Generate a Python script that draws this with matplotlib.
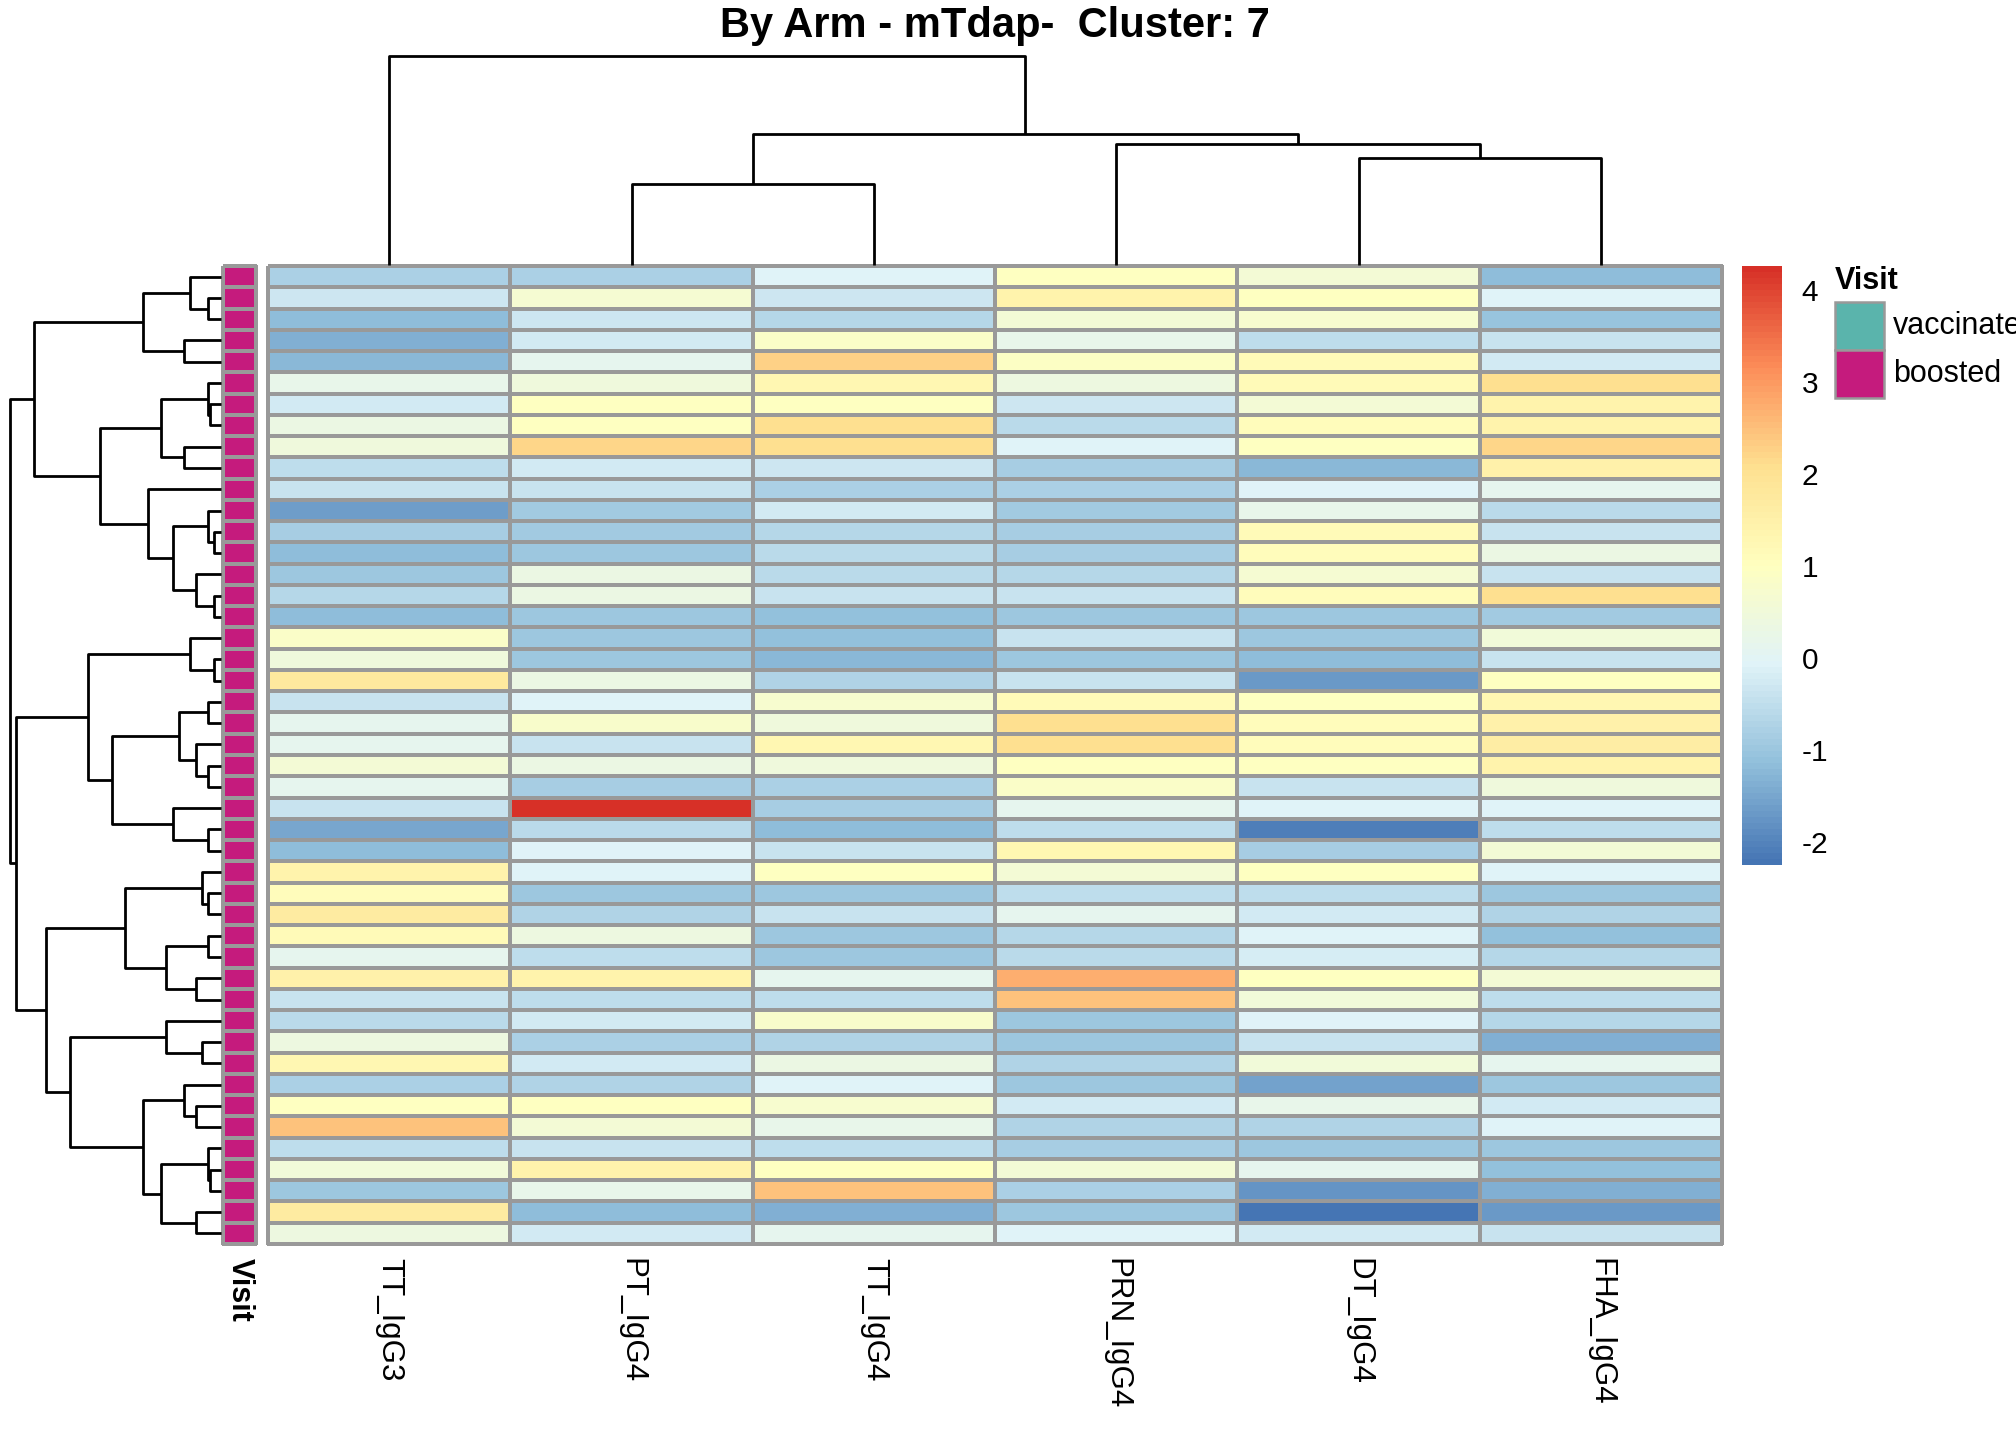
import numpy as np
import matplotlib
matplotlib.use("Agg")
import matplotlib.pyplot as plt
from matplotlib.colors import LinearSegmentedColormap, ListedColormap
from matplotlib.patches import Rectangle

plt.rcParams["font.family"] = ["Liberation Sans", "DejaVu Sans"]
plt.rcParams["axes.unicode_minus"] = False

title = "By Arm - mTdap-  Cluster: 7"
columns = ["TT_IgG3", "PT_IgG4", "TT_IgG4", "PRN_IgG4", "DT_IgG4", "FHA_IgG4"]

# scaled values, rows in dendrogram order (top to bottom)
tt_igg3 = [-0.8, -0.3, -1.2, -1.35, -1.25, 0.2, -0.25, 0.35, 0.45, -0.5, -0.4, -1.6, -0.85, -1.15, -0.95, -0.65,
           -1.15, 0.85, 0.45, 1.75, -0.4, 0.1, 0.1, 0.6, 0.1, -0.42, -1.5, -1.2, 1.45, 1.1, 1.7, 1.2, 0.15, 1.5,
           -0.4, -0.6, 0.4, 1.3, -0.8, 1.0, 2.5, -0.55, 0.5, -0.95, 1.7, 0.4]
pt_igg4 = [-0.8, 0.65, -0.3, -0.25, 0.15, 0.45, 1.0, 1.0, 2.2, -0.25, -0.42, -0.9, -0.9, -0.95, 0.3, 0.3,
           -0.95, -1.0, -0.95, 0.3, -0.1, 0.8, -0.42, 0.3, -0.85, 4.26, -0.62, -0.1, -0.1, -1.0, -0.7, 0.4, -0.5,
           1.4, -0.55, -0.25, -0.8, -0.25, -0.7, 0.95, 0.55, -0.42, 1.4, 0.2, -1.15, -0.25]
tt_igg4 = [-0.1, -0.3, -0.65, 0.85, 2.25, 1.3, 1.0, 2.05, 2.1, -0.3, -0.8, -0.25, -0.65, -0.62, -0.62, -0.4,
           -1.1, -1.1, -1.25, -0.7, 0.7, 0.45, 1.3, 0.45, -0.8, -0.85, -1.2, -0.42, 0.95, -1.0, -0.42, -0.95,
           -1.0, 0.15, -0.55, 0.75, -0.7, 0.35, -0.1, 0.7, 0.2, -0.55, 1.0, 2.5, -1.4, 0.1]
prn_igg4 = [0.95, 1.4, 0.6, 0.2, 0.9, 0.4, -0.3, -0.6, -0.1, -0.85, -0.8, -0.9, -0.85, -0.85, -0.65, -0.42,
            -0.95, -0.42, -0.95, -0.4, 1.2, 2.05, 2.1, 0.95, 0.85, 0.1, -0.55, 1.3, 0.55, -0.55, 0.15, -0.65,
            -0.6, 2.7, 2.5, -0.95, -0.95, -0.7, -0.95, -0.25, -0.7, -0.85, 0.6, -0.8, -1.0, -0.1]
dt_igg4 = [0.6, 0.95, 0.7, -0.5, 1.15, 1.15, 0.55, 1.1, 1.0, -1.25, -0.1, 0.2, 1.2, 1.1, 0.65, 1.1, -0.95,
           -1.0, -1.2, -1.7, 1.0, 1.1, 1.1, 1.0, -0.4, -0.1, -2.1, -0.85, 1.0, -0.55, -0.25, -0.1, -0.2, 1.0,
           0.5, -0.1, -0.42, 0.5, -1.55, 0.2, -0.7, -1.0, 0.1, -1.75, -2.25, -0.25]
fha_igg4 = [-1.15, -0.1, -1.05, -0.42, -0.25, 2.1, 1.45, 1.45, 2.2, 1.5, 0.1, -0.6, -0.42, 0.3, -0.42, 2.1,
            -0.9, 0.5, -0.42, 1.0, 1.3, 1.5, 1.6, 1.4, 0.45, -0.1, -0.55, 0.55, -0.1, -1.0, -0.7, -1.1, -0.65,
            0.55, -0.55, -0.65, -1.35, 0.1, -0.95, -0.25, -0.1, -1.0, -1.12, -1.35, -1.7, -0.42]

visit = ["boosted"] * 46
visit_levels = ["vaccinated", "boosted"]
visit_colors = ["#5AB4AC", "#C51B7D"]

# trees as (left, right, height); ints are leaf positions
row_tree = (
    ((((0, (1, 2, 0.38), 0.92), (3, 4, 1.10), 2.35),
      (((5, (6, 7, 0.33), 0.38), (8, 9, 1.10), 1.81),
       (10, ((11, (12, 13, 0.20), 0.38), (14, (15, 16, 0.20), 0.74), 1.45), 2.18), 3.62), 5.59)),
    (((17, (18, 19, 0.20), 0.92),
      (((20, 21, 0.38), (22, (23, 24, 0.38), 0.74), 1.27), (25, (26, 27, 0.38), 1.45), 3.25), 3.97),
     (((28, (29, 30, 0.38), 0.56), ((31, 32, 0.38), (33, 34, 0.74), 1.64), 2.89),
      ((35, (36, 37, 0.56), 1.64),
       ((38, (39, 40, 0.74), 1.10), ((41, (42, 43, 0.33), 0.38), (44, 45, 0.74), 1.81), 2.35), 4.51), 5.24),
     6.14),
    6.32)
col_tree = (0, ((1, 2, 4.05), (3, (4, 5, 5.33), 6.03), 6.53), 10.45)

values = np.column_stack([tt_igg3, pt_igg4, tt_igg4, prn_igg4, dt_igg4, fha_igg4])
n_rows, n_cols = values.shape
vmin, vmax = values.min(), values.max()

cmap = LinearSegmentedColormap.from_list(
    "rdylbu_rev", ["#4575B4", "#91BFDB", "#E0F3F8", "#FFFFBF", "#FEE090", "#FC8D59", "#D73027"], N=100)
border = "#999999"

W, H = 2016, 1440
fig = plt.figure(figsize=(W / 100, H / 100), dpi=100)


def box(x0, y0, x1, y1):
    return [x0 / W, 1 - y1 / H, (x1 - x0) / W, (y1 - y0) / H]


def draw_tree(ax, node, vertical, lw=2.0):
    if isinstance(node, int):
        return node + 0.5, 0.0
    left, right, h = node
    p1, h1 = draw_tree(ax, left, vertical, lw)
    p2, h2 = draw_tree(ax, right, vertical, lw)
    pos = [p1, p1, p2, p2]
    hts = [h1, h, h, h2]
    if vertical:
        ax.plot(pos, hts, color="black", lw=lw, solid_capstyle="butt")
    else:
        ax.plot(hts, pos, color="black", lw=lw, solid_capstyle="butt")
    return (p1 + p2) / 2, h


hx0, hx1, hy0, hy1 = 268, 1722, 266, 1244

# heatmap
ax = fig.add_axes(box(hx0, hy0, hx1, hy1))
mesh = ax.pcolormesh(values, cmap=cmap, vmin=vmin, vmax=vmax, edgecolors=border, linewidth=1.5)
mesh.set_clip_on(False)
ax.set_xlim(0, n_cols)
ax.set_ylim(n_rows, 0)
ax.axis("off")

# annotation column
ax_ann = fig.add_axes(box(223, hy0, 256, hy1))
codes = np.array([[visit_levels.index(v)] for v in visit])
ann = ax_ann.pcolormesh(codes, cmap=ListedColormap(visit_colors), vmin=0, vmax=1,
                        edgecolors=border, linewidth=1.5)
ann.set_clip_on(False)
ax_ann.set_ylim(n_rows, 0)
ax_ann.axis("off")

# row dendrogram
ax_rd = fig.add_axes(box(10, hy0, 221, hy1))
draw_tree(ax_rd, row_tree, vertical=False)
ax_rd.set_xlim(row_tree[2], 0)
ax_rd.set_ylim(n_rows, 0)
ax_rd.axis("off")

# column dendrogram
ax_cd = fig.add_axes(box(hx0, 56, hx1, 265))
draw_tree(ax_cd, col_tree, vertical=True)
ax_cd.set_xlim(0, n_cols)
ax_cd.set_ylim(0, col_tree[2])
ax_cd.axis("off")
for a in (ax_rd, ax_cd):
    for ln in a.lines:
        ln.set_clip_on(False)

# colorbar
cax = fig.add_axes(box(1742, 266, 1782, 865))
cb = fig.colorbar(mesh, cax=cax, ticks=range(-2, 5))
cb.outline.set_visible(False)
cax.tick_params(length=0, pad=14, labelsize=21.5)

# overlay for text and legend
ov = fig.add_axes([0, 0, 1, 1])
ov.set_xlim(0, W)
ov.set_ylim(H, 0)
ov.axis("off")
ov.patch.set_alpha(0)

ov.text((hx0 + hx1) / 2, 26, title, ha="center", va="center", fontsize=30, fontweight="bold")

cw = (hx1 - hx0) / n_cols
for i, name in enumerate(columns):
    ov.text(hx0 + (i + 0.5) * cw, 1258, name, rotation=270, ha="center", va="top", fontsize=22.5)
ov.text(239.5, 1258, "Visit", rotation=270, ha="center", va="top", fontsize=22, fontweight="bold")

ov.text(1835, 281, "Visit", ha="left", va="center", fontsize=22, fontweight="bold")
for i, (lab, col) in enumerate(zip(visit_levels, visit_colors)):
    y0 = 302 + i * 48
    ov.add_patch(Rectangle((1835, y0), 49, 48, facecolor=col, edgecolor=border, lw=1.8))
    ov.text(1893, y0 + 24, lab, ha="left", va="center", fontsize=22)

fig.savefig("out.png", dpi=100)
